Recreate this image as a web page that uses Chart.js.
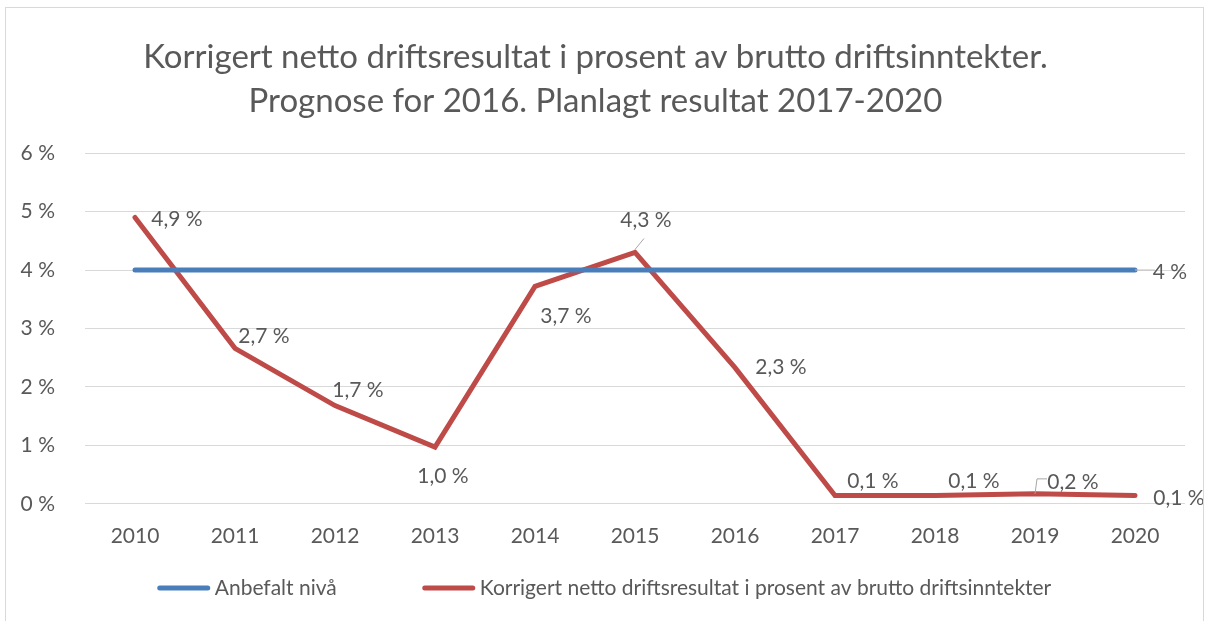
<!DOCTYPE html>
<html>
<head>
<meta charset="utf-8">
<script src="https://cdn.jsdelivr.net/npm/chart.js@4"></script>
<style>
  html, body { margin: 0; padding: 0; background: #fff; }
  #frame {
    position: absolute; left: 5px; top: 7px; width: 1199px; height: 620px;
    border: 1px solid #d9d9d9; box-sizing: border-box;
  }
  #wrap { position: absolute; left: 0; top: 0; width: 1197px; height: 618px; }
</style>
</head>
<body>
<div id="frame"><div id="wrap"><canvas id="myChart"></canvas></div></div>
<script>
// data
const years = ["2010", "2011", "2012", "2013", "2014", "2015", "2016", "2017", "2018", "2019", "2020"];
const anbefalt = [4, 4, 4, 4, 4, 4, 4, 4, 4, 4, 4];
const korrigert = [4.9, 2.66, 1.68, 0.97, 3.72, 4.3, 2.33, 0.14, 0.14, 0.17, 0.14];
const yTicks = [0, 1, 2, 3, 4, 5, 6];

const FONT = "Lato, 'Liberation Sans', sans-serif";
const GREY = "#595959";
const TXT = 21;

const fmt = v => v.toFixed(1).replace(".", ",") + " %";

// label placement like excel put them (dx, dy from the point, optional leader)
const redLabelPos = [
  [42, 2], [29, -12], [23, -15], [8, 29], [31, 30], [11, -32, true],
  [46, 0], [38, -14], [39, -14], [38, -12, true], [44, 3]
];

// =======================
// data labels plugin
// =======================
const dataLabels = {
  id: "dataLabels",
  afterDatasetsDraw(chart) {
    const ctx = chart.ctx;
    ctx.save();
    ctx.font = TXT + "px " + FONT;
    ctx.fillStyle = GREY;
    ctx.textAlign = "center";
    ctx.textBaseline = "middle";

    // red series, every point
    const red = chart.getDatasetMeta(1).data;
    red.forEach((pt, i) => {
      const [dx, dy, leader] = redLabelPos[i];
      const x = pt.x + dx, y = pt.y + dy;
      if (leader) {
        ctx.strokeStyle = "#a6a6a6";
        ctx.lineWidth = 1;
        ctx.beginPath();
        if (i === 5) {
          ctx.moveTo(pt.x, pt.y - 3);
          ctx.lineTo(pt.x + 9, pt.y - 14);
        } else {
          ctx.moveTo(pt.x, pt.y);
          ctx.lineTo(pt.x + 2, pt.y - 15);
          ctx.lineTo(pt.x + 12, pt.y - 15);
        }
        ctx.stroke();
      }
      ctx.fillText(fmt(korrigert[i]), x, y);
    });

    // blue series, only the last point
    const blue = chart.getDatasetMeta(0).data;
    const last = blue[blue.length - 1];
    ctx.strokeStyle = "#bfbfbf";
    ctx.lineWidth = 1;
    ctx.beginPath();
    ctx.moveTo(last.x, last.y);
    ctx.lineTo(last.x + 20, last.y);
    ctx.stroke();
    ctx.fillText(anbefalt[anbefalt.length - 1] + " %", last.x + 35, last.y + 2);
    ctx.restore();
  }
};

// =======================
// bottom legend (excel style spacing)
// =======================
const bottomLegend = {
  id: "bottomLegend",
  afterDraw(chart) {
    const ctx = chart.ctx;
    const sets = chart.data.datasets;
    const lineW = 52, textGap = 5, itemGap = 86;
    const y = chart.height - 38;
    ctx.save();
    ctx.font = TXT + "px " + FONT;
    ctx.textBaseline = "middle";
    ctx.textAlign = "left";
    const widths = sets.map(d => lineW + textGap + ctx.measureText(d.label).width);
    const total = widths.reduce((a, b) => a + b, 0) + itemGap * (sets.length - 1);
    let x = (chart.width - total) / 2;
    sets.forEach((d, i) => {
      ctx.strokeStyle = d.borderColor;
      ctx.lineWidth = 5;
      ctx.lineCap = "round";
      ctx.beginPath();
      ctx.moveTo(x + 2, y);
      ctx.lineTo(x + lineW - 2, y);
      ctx.stroke();
      ctx.fillStyle = GREY;
      ctx.fillText(d.label, x + lineW + textGap, y);
      x += widths[i] + itemGap;
    });
    ctx.restore();
  }
};

new Chart(document.getElementById("myChart"), {
  type: "line",
  data: {
    labels: years,
    datasets: [
      {
        label: "Anbefalt nivå",
        data: anbefalt,
        borderColor: "#4a7ebb",
        backgroundColor: "#4a7ebb",
        borderWidth: 5,
        pointRadius: 0,
        borderCapStyle: "round"
      },
      {
        label: "Korrigert netto driftsresultat i prosent av brutto driftsinntekter",
        data: korrigert,
        borderColor: "#be4b48",
        backgroundColor: "#be4b48",
        borderWidth: 5,
        pointRadius: 0,
        borderCapStyle: "round",
        borderJoinStyle: "miter"
      }
    ]
  },
  options: {
    responsive: true,
    maintainAspectRatio: false,
    animation: false,
    layout: { padding: { left: 0, right: 18, top: 0, bottom: 65 } },
    plugins: {
      title: {
        display: true,
        text: [
          "Korrigert netto driftsresultat i prosent av brutto driftsinntekter.",
          "Prognose for 2016. Planlagt resultat 2017-2020"
        ],
        color: GREY,
        font: { family: FONT, size: 33, weight: "normal", lineHeight: 1.32 },
        padding: { top: 28, bottom: 30 }
      },
      legend: { display: false },
      tooltip: { enabled: false }
    },
    scales: {
      x: {
        offset: true,
        grid: { display: false },
        border: { display: false },
        ticks: { color: GREY, font: { family: FONT, size: TXT }, padding: 12 }
      },
      y: {
        min: 0,
        max: 6,
        afterBuildTicks: s => { s.ticks = yTicks.map(v => ({ value: v })); },
        afterFit: s => { s.width = 79; },
        grid: { color: "#d9d9d9", lineWidth: 1, drawTicks: false },
        border: { display: false },
        ticks: {
          color: GREY,
          font: { family: FONT, size: TXT },
          padding: 30,
          callback: v => v + " %"
        }
      }
    }
  },
  plugins: [dataLabels, bottomLegend]
});
</script>
</body>
</html>
